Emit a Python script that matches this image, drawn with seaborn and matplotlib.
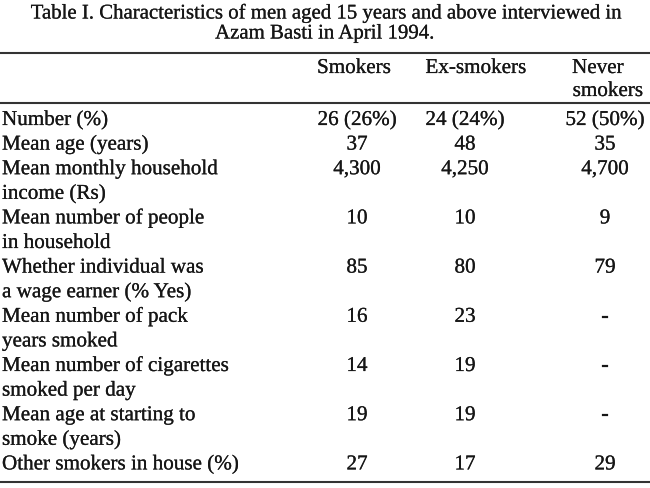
import matplotlib
matplotlib.use("Agg")
import matplotlib.pyplot as plt
import matplotlib.patheffects as pe
import seaborn as sns
import pandas as pd

title_lines = ["Table I. Characteristics of men aged 15 years and above interviewed in",
               "Azam Basti in April 1994."]
col_headers = [["Smokers"], ["Ex-smokers"], ["Never", "smokers"]]
row_labels = [
    ["Number (%)"],
    ["Mean age (years)"],
    ["Mean monthly household", "income (Rs)"],
    ["Mean number of people", "in household"],
    ["Whether individual was", "a wage earner (% Yes)"],
    ["Mean number of pack", "years smoked"],
    ["Mean number of cigarettes", "smoked per day"],
    ["Mean age at starting to", "smoke (years)"],
    ["Other smokers in house (%)"],
]
smokers = ["26 (26%)", "37", "4,300", "10", "85", "16", "14", "19", "27"]
ex_smokers = ["24 (24%)", "48", "4,250", "10", "80", "23", "19", "19", "17"]
never_smokers = ["52 (50%)", "35", "4,700", "9", "79", "-", "-", "-", "29"]

df = pd.DataFrame({"label": row_labels, "Smokers": smokers,
                   "Ex-smokers": ex_smokers, "Never smokers": never_smokers})

sns.set_theme(style="white")
plt.rcParams['font.family'] = ['Liberation Serif', 'DejaVu Serif']

W, H = 650, 488
fig = plt.figure(figsize=(6.5, 4.88), dpi=100)
ax = fig.add_axes([0, 0, 1, 1])
ax.set_xlim(0, W)
ax.set_ylim(H, 0)
ax.axis("off")

fs_title = 15.0
fs_body = 15.2
ink = '#161616'
thick = [pe.withStroke(linewidth=0.15, foreground=ink)]

def txt(x, y, s, ha='center', fs=fs_body):
    ax.text(x, y, s, ha=ha, va='baseline', fontsize=fs, color=ink, path_effects=thick)

# title
txt(328, 18.5, title_lines[0], fs=fs_title)
txt(325, 38.5, title_lines[1], fs=fs_title)

rule_kw = dict(color='#333333', lw=1.5, solid_capstyle='butt')
for ry in (52.5, 102.5, 482):
    ax.plot([0, W], [ry, ry], **rule_kw)

# column headers
hdr_x = [[354], [476], [598, 608]]
hdr_y = [73, 96]
for xs, hdr in zip(hdr_x, col_headers):
    for j, line in enumerate(hdr):
        txt(xs[j], hdr_y[j], line)

col_x = {"Smokers": 357, "Ex-smokers": 465, "Never smokers": 605}

y0 = 125
step = 24.6
line_idx = 0
for i, row in df.iterrows():
    y = y0 + step * line_idx
    for j, line in enumerate(row["label"]):
        txt(2, y + step * j, line, ha='left')
    for c in ("Smokers", "Ex-smokers", "Never smokers"):
        txt(col_x[c], y, row[c])
    line_idx += len(row["label"])

fig.savefig("out.png", dpi=100, facecolor='white')
